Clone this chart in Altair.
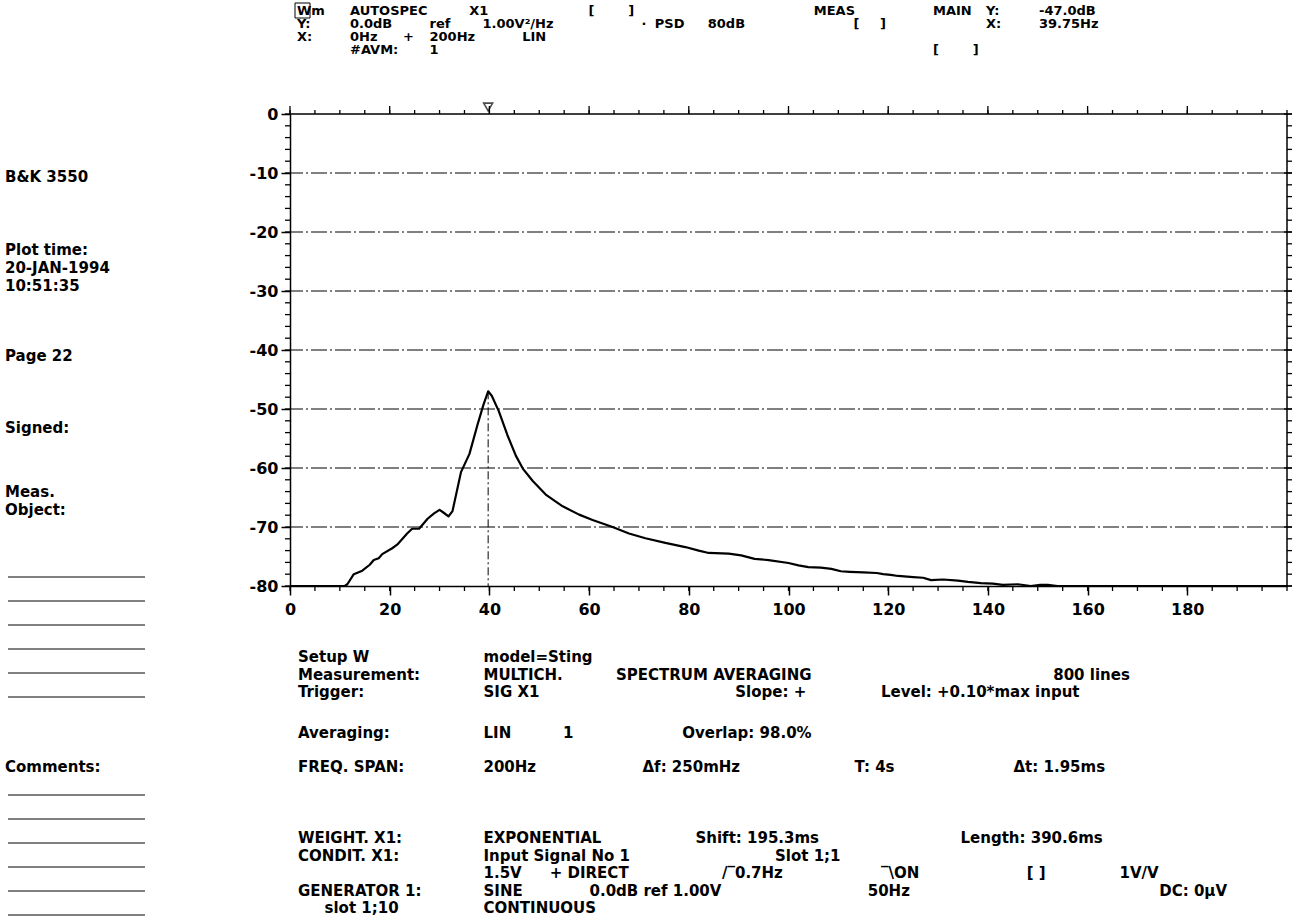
import altair as alt
import pandas as pd

# ---------------------------------------------------------------- data
# Autospectrum of channel X1, 0-200 Hz baseband, dB re 1 V^2/Hz
freq_hz = [0, 11.0, 11.5, 12.8, 14.5, 16.0, 16.8, 17.8, 18.5, 20.5, 21.5, 23.5,
           24.5, 25.9, 27.6, 28.9, 30.0, 30.7, 31.8, 32.6, 34.3, 36.0, 37.6,
           38.8, 39.75, 40.5, 41.9, 43.6, 45.3, 46.7, 48.7, 51.3, 54.7, 58.0,
           60.7, 64.7, 68.0, 71.3, 75.3, 79.3, 82.0, 84.0, 88.0, 90.5, 93.2,
           96.0, 100.0, 102.0, 104.0, 106.5, 108.6, 110.5, 112.3, 115.0, 117.7,
           119.0, 120.5, 122.0, 125.0, 127.0, 128.6, 131.0, 134.0, 136.0,
           138.6, 141.0, 143.0, 146.0, 148.6, 150.5, 152.0, 154.0, 155.6,
           160.0, 200.0]
psd_db = [-80, -80, -79.7, -78.0, -77.4, -76.4, -75.6, -75.3, -74.6, -73.6,
          -73.0, -71.1, -70.3, -70.3, -68.6, -67.7, -67.1, -67.5, -68.2, -67.3,
          -60.7, -57.6, -52.7, -49.3, -47.0, -47.8, -50.4, -54.4, -57.9, -60.1,
          -62.2, -64.5, -66.5, -67.9, -68.8, -70.0, -71.1, -71.9, -72.7, -73.4,
          -74.0, -74.4, -74.5, -74.8, -75.4, -75.6, -76.1, -76.5, -76.8, -76.9,
          -77.1, -77.5, -77.6, -77.7, -77.8, -78.0, -78.1, -78.3, -78.5, -78.6,
          -79.0, -78.9, -79.1, -79.3, -79.5, -79.6, -79.8, -79.7, -80.0, -79.8,
          -79.8, -80.0, -80.0, -80.0, -80.0]

# main cursor readout
cursor_hz = 39.75
cursor_db = -47.0

x_major = list(range(0, 181, 20))
x_minor = list(range(0, 201, 5))
y_major = list(range(0, -81, -10))
y_minor = list(range(0, -81, -2))
grid_db = list(range(-10, -71, -10))

# ---------------------------------------------------------------- print-out text
# Printed items with their character column; header lines are word by word.
header_rows = [
    [("AUTOSPEC", 4), ("X1", 13), ("[", 22), ("]", 25), ("MEAS", 39),
     ("MAIN", 48), ("Y:", 52), ("-47.0dB", 56)],
    [("Y:", 0), ("0.0dB", 4), ("ref", 10), ("1.00V²/Hz", 14), ("·", 26),
     ("PSD", 27), ("80dB", 31), ("[", 42), ("]", 44), ("X:", 52),
     ("39.75Hz", 56)],
    [("X:", 0), ("0Hz", 4), ("+", 8), ("200Hz", 10), ("LIN", 17)],
    [("#AVM:", 4), ("1", 10), ("[", 48), ("]", 51)],
]
# set-up block: (line position, items)
setup_rows = [
    (657, [("Setup W", 0), ("model=Sting", 14)]),
    (674.5, [("Measurement:", 0), ("MULTICH.", 14), ("SPECTRUM AVERAGING", 24),
             ("800 lines", 57)]),
    (692, [("Trigger:", 0), ("SIG X1", 14), ("Slope: +", 33),
           ("Level: +0.10*max input", 44)]),
    (733, [("Averaging:", 0), ("LIN", 14), ("1", 20), ("Overlap: 98.0%", 29)]),
    (767, [("FREQ. SPAN:", 0), ("200Hz", 14), ("Δf: 250mHz", 26), ("T: 4s", 42),
           ("Δt: 1.95ms", 54)]),
    (838, [("WEIGHT. X1:", 0), ("EXPONENTIAL", 14), ("Shift: 195.3ms", 30),
           ("Length: 390.6ms", 50)]),
    (855.5, [("CONDIT. X1:", 0), ("Input Signal No 1", 14), ("Slot 1;1", 36)]),
    (873, [("1.5V", 14), ("+ DIRECT", 19), ("/‾0.7Hz", 32), ("‾\\ON", 44),
           ("[ ]", 55), ("1V/V", 62)]),
    (890.5, [("GENERATOR 1:", 0), ("SINE", 14), ("0.0dB ref 1.00V", 22),
             ("50Hz", 43), ("DC: 0µV", 65)]),
    (908, [("slot 1;10", 2), ("CONTINUOUS", 14)]),
]
# left margin notes: (text, line position)
side_rows = [
    ("B&K 3550", 177), ("Plot time:", 250), ("20-JAN-1994", 268),
    ("10:51:35", 286), ("Page 22", 356), ("Signed:", 428), ("Meas.", 492),
    ("Object:", 510), ("Comments:", 767),
]
side_rules_y = [577, 601, 625, 649, 673, 697, 795, 819, 843, 867, 891, 915]

# ---------------------------------------------------------------- page geometry
FONT = "DejaVu Sans"
FS = 15              # body text size
HFS = 13             # header text size
PITCH = 13.25        # printer character pitch, px
LEFT, TOP = 290, 114          # plot area origin on the page
W, H = 997, 472               # plot area size (0-200 Hz, 0 to -80 dB)
HEAD_X0, HEAD_Y0, HEAD_DY = 297, 11, 13
BODY_X0 = 298
SIDE_X0 = 5

header_items = []
for i, row in enumerate(header_rows):
    for word, col in row:
        header_items.append((word, HEAD_X0 + col * PITCH, HEAD_Y0 + i * HEAD_DY))
body_items = []
for ypos, row in setup_rows:
    for word, col in row:
        body_items.append((word, BODY_X0 + col * PITCH, ypos))
body_items += [(t, SIDE_X0, ypos) for t, ypos in side_rows]

# ---------------------------------------------------------------- chart
xs = alt.Scale(domain=[0, 200], nice=False, zero=False)
ys = alt.Scale(domain=[-80, 0], nice=False, zero=False)

AX = alt.Axis(values=x_major, title=None, grid=False, tickSize=9, tickWidth=1.5,
              tickColor="black", domainColor="black", domainWidth=1.5,
              labelFont=FONT, labelFontSize=16, labelFontWeight="bold",
              labelColor="black", labelPadding=6, labelFlush=False)
AY = alt.Axis(values=y_major, title=None, grid=False, tickSize=9, tickWidth=1.5,
              tickColor="black", domainColor="black", domainWidth=1.5,
              labelFont=FONT, labelFontSize=16, labelFontWeight="bold",
              labelColor="black", labelPadding=3,
              labelExpr="'' + datum.value")


def X(field="hz"):
    return alt.X(f"{field}:Q", scale=xs, axis=AX)


def Y(field="db"):
    return alt.Y(f"{field}:Q", scale=ys, axis=AY)


spec = pd.DataFrame({"hz": freq_hz, "db": psd_db})

line = alt.Chart(spec).mark_line(color="black", strokeWidth=2.2,
                                 strokeJoin="round").encode(x=X(), y=Y())

grid = alt.Chart(pd.DataFrame({"db": grid_db})).mark_rule(
    color="black", strokeWidth=1, strokeDash=[16, 3, 2, 3]).encode(y=Y())

frame_top = alt.Chart(pd.DataFrame({"db": [0]})).mark_rule(
    color="black", strokeWidth=1.5).encode(y=Y())
frame_right = alt.Chart(pd.DataFrame({"hz": [200]})).mark_rule(
    color="black", strokeWidth=1.5).encode(x=X())

hz_minor = pd.DataFrame({"hz": x_minor})
hz_major = pd.DataFrame({"hz": x_major})
db_minor = pd.DataFrame({"db": y_minor})
db_major = pd.DataFrame({"db": y_major})

tick_kw = dict(color="black", strokeWidth=1.3)
ticks = [
    alt.Chart(hz_minor).mark_rule(**tick_kw).encode(
        x=X(), y=alt.value(H), y2=alt.value(H + 5)),
    alt.Chart(hz_minor).mark_rule(**tick_kw).encode(
        x=X(), y=alt.value(0), y2=alt.value(-4)),
    alt.Chart(hz_major).mark_rule(**tick_kw).encode(
        x=X(), y=alt.value(0), y2=alt.value(-8)),
    alt.Chart(db_minor).mark_rule(**tick_kw).encode(
        y=Y(), x=alt.value(0), x2=alt.value(-5)),
    alt.Chart(db_minor).mark_rule(**tick_kw).encode(
        y=Y(), x=alt.value(W), x2=alt.value(W + 5)),
    alt.Chart(db_major).mark_rule(**tick_kw).encode(
        y=Y(), x=alt.value(W - 3), x2=alt.value(W + 9)),
]

cur = pd.DataFrame({"hz": [cursor_hz], "db": [cursor_db], "floor": [-80]})
cursor_line = alt.Chart(cur).mark_rule(
    color="black", strokeWidth=1, strokeDash=[8, 3, 2, 3]).encode(
    x=X(), y=Y(), y2="floor:Q")
cursor_mark = alt.Chart(cur).mark_point(
    shape="triangle-down", filled=False, color="black", size=80,
    strokeWidth=1.6).encode(x=X(), y=alt.value(-7))


def text_layer(items, size, weight="bold"):
    df = pd.DataFrame([{"txt": t, "px": px - LEFT, "py": py - TOP}
                       for t, px, py in items])
    return alt.Chart(df).mark_text(
        font=FONT, fontSize=size, fontWeight=weight, align="left",
        baseline="middle", color="black").encode(
        x=alt.X("px:Q", scale=None, axis=None),
        y=alt.Y("py:Q", scale=None, axis=None),
        text="txt:N")


header = text_layer(header_items, HFS)
body = text_layer(body_items, FS)
tag = text_layer([("Wm", HEAD_X0, HEAD_Y0)], HFS)
tag_box = alt.Chart(pd.DataFrame({"a": [0]})).mark_rect(
    fill=None, stroke="black", strokeWidth=1).encode(
    x=alt.value(HEAD_X0 - 2 - LEFT), x2=alt.value(HEAD_X0 + 13 - LEFT),
    y=alt.value(HEAD_Y0 - 8 - TOP), y2=alt.value(HEAD_Y0 + 7 - TOP))

side_rules = alt.Chart(pd.DataFrame({"py": [v - TOP for v in side_rules_y]})).mark_rule(
    color="black", strokeWidth=1).encode(
    y=alt.Y("py:Q", scale=None, axis=None),
    x=alt.value(8 - LEFT), x2=alt.value(145 - LEFT))

chart = alt.layer(
    grid, frame_top, frame_right, *ticks, cursor_line, line, cursor_mark,
    header, body, tag, tag_box, side_rules,
).properties(
    width=W, height=H,
    autosize=alt.AutoSizeParams(type="none"),
    padding={"left": LEFT, "top": TOP, "right": 1292 - LEFT - W,
             "bottom": 918 - TOP - H},
    background="white",
).configure_view(stroke=None)

chart.save("out.html", embed_options={"renderer": "svg", "actions": False})
